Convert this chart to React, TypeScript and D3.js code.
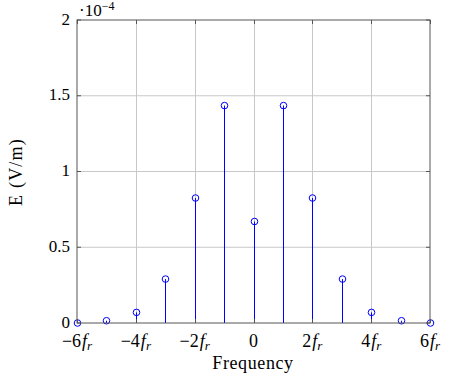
import React from "react";
import { scaleLinear } from "d3";

// harmonic index (multiples of f_r) and field amplitude in units of 1e-4 V/m
const harmonics = [-6, -5, -4, -3, -2, -1, 0, 1, 2, 3, 4, 5, 6];
const amplitudes = [0, 0.015, 0.07, 0.29, 0.825, 1.435, 0.67, 1.435, 0.825, 0.29, 0.07, 0.015, 0];
const xTicks = [-6, -4, -2, 0, 2, 4, 6];
const yTicks = [0, 0.5, 1, 1.5, 2];
const yTickLabels = ["0", "0.5", "1", "1.5", "2"];

const W = 450;
const H = 378;
const left = 77;
const right = 430;
const top = 20;
const bottom = 323;
const font = "Liberation Serif, DejaVu Serif, serif";
const fs = 18;

function XLabel({ v }: { v: number }) {
  if (v === 0) return <tspan>0</tspan>;
  const n = Math.abs(v);
  return (
    <>
      <tspan>{v < 0 ? "\u2212" : ""}{n}</tspan>
      <tspan fontStyle="italic" dx={1}>f</tspan>
      <tspan fontStyle="italic" fontSize={13} dy={3}>r</tspan>
    </>
  );
}

export default function App() {
  const x = scaleLinear().domain([-6, 6]).range([left, right]);
  const y = scaleLinear().domain([0, 2]).range([bottom, top]);
  const px = (v: number) => Math.round(x(v)) + 0.5;

  return (
    <svg
      width={W}
      height={H}
      style={{ position: "absolute", left: 0, top: 0, background: "#fff", fontFamily: font }}
    >
      {/* grid */}
      {xTicks.slice(1, -1).map((t) => (
        <line key={"gx" + t} x1={px(t)} x2={px(t)} y1={top} y2={bottom} stroke="#c8c8c8" strokeWidth={1} />
      ))}
      {yTicks.slice(1, -1).map((t) => (
        <line key={"gy" + t} x1={left} x2={right} y1={y(t)} y2={y(t)} stroke="#c8c8c8" strokeWidth={1} />
      ))}

      {/* stems */}
      {harmonics.map((h, i) => (
        <g key={"s" + h}>
          <line x1={px(h)} x2={px(h)} y1={y(0)} y2={y(amplitudes[i])} stroke="#0000ff" strokeWidth={1} />
          <circle cx={px(h)} cy={y(amplitudes[i])} r={3.3} fill="none" stroke="#0000ff" strokeWidth={1} />
        </g>
      ))}

      {/* axis box and ticks */}
      <rect x={left} y={top} width={right - left} height={bottom - top} fill="none" stroke="#555" strokeWidth={1} />
      {xTicks.map((t) => (
        <g key={"tx" + t}>
          <line x1={px(t)} x2={px(t)} y1={bottom} y2={bottom - 4} stroke="#555" />
          <line x1={px(t)} x2={px(t)} y1={top} y2={top + 4} stroke="#555" />
          <text x={x(t)} y={347} textAnchor="middle" fontSize={fs} fill="#000">
            <XLabel v={t} />
          </text>
        </g>
      ))}
      {yTicks.map((t, i) => (
        <g key={"ty" + t}>
          <line x1={left} x2={left + 4} y1={y(t)} y2={y(t)} stroke="#555" />
          <line x1={right} x2={right - 4} y1={y(t)} y2={y(t)} stroke="#555" />
          <text x={70} y={y(t) + 4.5} textAnchor="end" fontSize={17} fill="#000">
            {yTickLabels[i]}
          </text>
        </g>
      ))}

      {/* scale factor */}
      <text x={79} y={16} fontSize={17} fill="#000">
        <tspan>·10</tspan>
        <tspan fontSize={12} dy={-6}>{"\u2212"}4</tspan>
      </text>

      {/* axis titles */}
      <text x={253} y={369} textAnchor="middle" fontSize={fs} letterSpacing={0.6} fill="#000">
        Frequency
      </text>
      <text
        transform={`translate(22, 172) rotate(-90)`}
        textAnchor="middle"
        fontSize={fs}
        letterSpacing={1.2}
        fill="#000"
      >
        E (V/m)
      </text>
    </svg>
  );
}
